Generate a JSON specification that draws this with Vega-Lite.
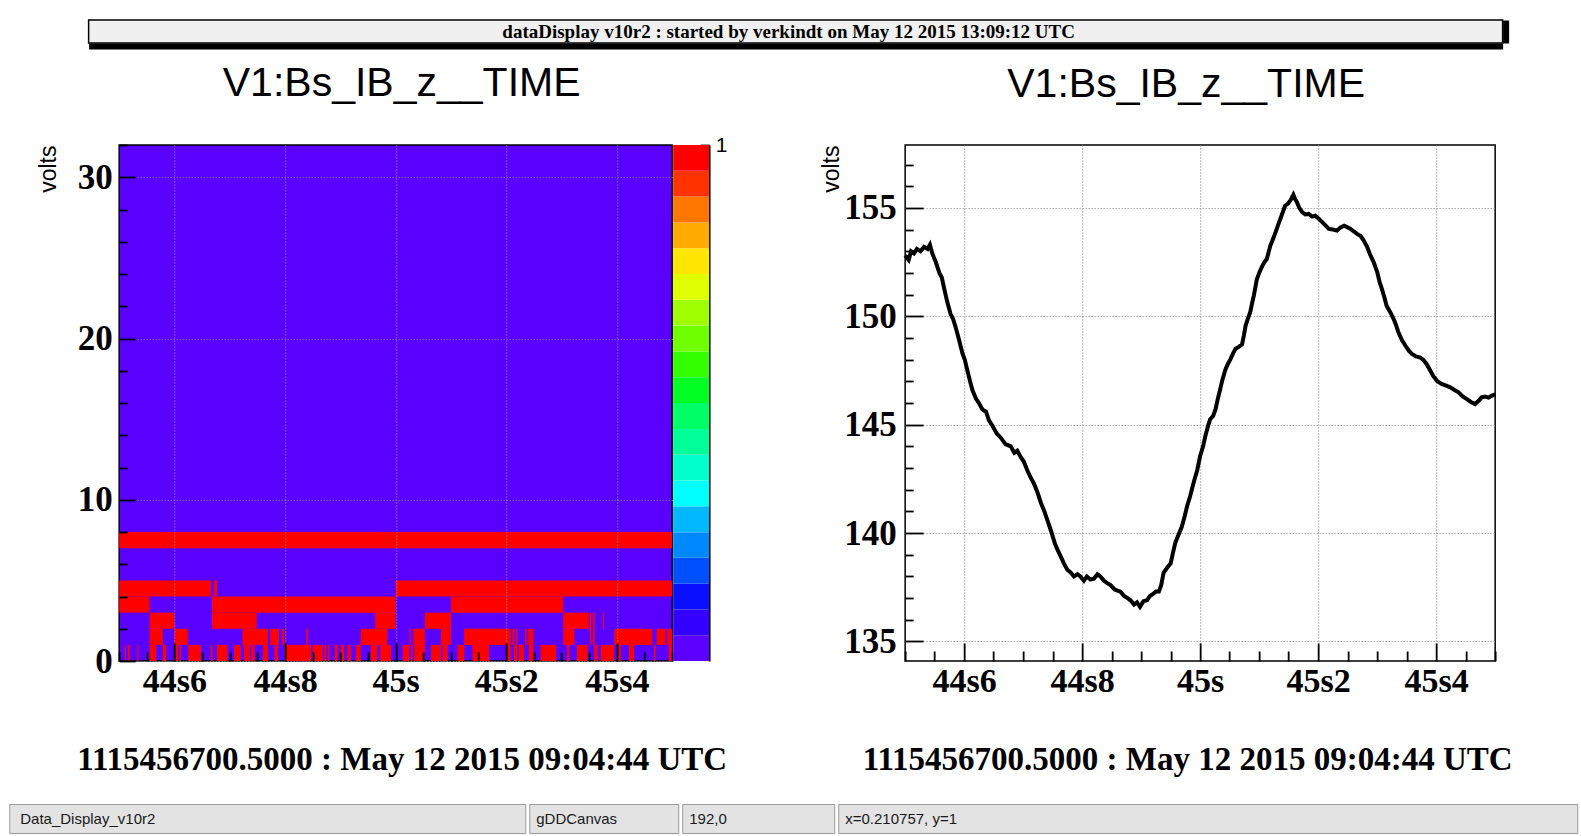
{
  "$schema": "https://vega.github.io/schema/vega-lite/v6.json",
  "background": "white",
  "padding": {"left": 8, "top": 19, "right": 0, "bottom": 0},
  "config": {
    "view": {"stroke": "black", "strokeWidth": 1.5},
    "axis": {
      "labelFont": "Liberation Serif", "labelFontWeight": "bold", "labelFontSize": 35, "labelColor": "black",
      "labelFlush": false, "labelOverlap": false, "labelBound": false,
      "titleFont": "Liberation Serif", "titleFontWeight": "bold", "titleFontSize": 33, "titleColor": "black",
      "domain": false, "tickColor": "black", "tickWidth": 1.8,
      "gridColor": "#8c8c8c", "gridDash": [1, 2], "gridWidth": 1.2
    },
    "title": {"font": "Liberation Sans", "fontSize": 41, "fontWeight": "normal", "color": "black"}
  },
  "spacing": 15,
  "center": true,
  "vconcat": [
    {
      "width": 1414, "height": 23,
      "view": {"fill": "#f0f0f0", "stroke": "black", "strokeWidth": 1.5},
      "data": {"values": [{"label": "dataDisplay v10r2 : started by verkindt on May 12 2015 13:09:12 UTC"}]},
      "mark": {"type": "text", "font": "Liberation Serif", "fontWeight": "bold", "fontSize": 19, "baseline": "middle", "color": "black", "dx": -7},
      "encoding": {
        "text": {"field": "label", "type": "nominal"},
        "x": {"field": "label", "type": "nominal", "scale": {"padding": 0},
          "axis": {"orient": "bottom", "labels": false, "ticks": false, "grid": false, "domain": true, "domainColor": "black", "domainWidth": 6, "offset": 3, "title": null}},
        "y": {"field": "label", "type": "nominal", "scale": {"padding": 0},
          "axis": {"orient": "right", "labels": false, "ticks": false, "grid": false, "domain": true, "domainColor": "black", "domainWidth": 6, "offset": 3,
            "title": ".", "titleOpacity": 0, "titleFontSize": 10, "titlePadding": 27}}
      }
    },
    {
      "spacing": 91,
      "hconcat": [
        {
          "spacing": 1,
          "bounds": "flush",
          "hconcat": [
            {
              "title": {"text": "V1:Bs_IB_z__TIME", "offset": 39, "dx": 6},
              "width": 553, "height": 516,
              "view": {"fill": "#5a00ff", "stroke": "black", "strokeWidth": 1.5},
              "data": {"values": [
                {"bit": 7, "bit_top": 8, "t0": 44.5, "t1": 45.5},
                {"bit": 4, "bit_top": 5, "t0": 44.5, "t1": 44.666},
                {"bit": 4, "bit_top": 5, "t0": 44.671, "t1": 44.677},
                {"bit": 4, "bit_top": 5, "t0": 45.0, "t1": 45.5},
                {"bit": 3, "bit_top": 4, "t0": 44.5, "t1": 44.555},
                {"bit": 3, "bit_top": 4, "t0": 44.668, "t1": 45.0},
                {"bit": 3, "bit_top": 4, "t0": 45.1, "t1": 45.303},
                {"bit": 2, "bit_top": 3, "t0": 44.555, "t1": 44.6},
                {"bit": 2, "bit_top": 3, "t0": 44.668, "t1": 44.749},
                {"bit": 2, "bit_top": 3, "t0": 44.963, "t1": 45.0},
                {"bit": 2, "bit_top": 3, "t0": 45.053, "t1": 45.1},
                {"bit": 2, "bit_top": 3, "t0": 45.303, "t1": 45.349},
                {"bit": 2, "bit_top": 3, "t0": 45.351, "t1": 45.354},
                {"bit": 2, "bit_top": 3, "t0": 45.357, "t1": 45.36},
                {"bit": 2, "bit_top": 3, "t0": 45.375, "t1": 45.377},
                {"bit": 1, "bit_top": 2, "t0": 44.555, "t1": 44.579},
                {"bit": 1, "bit_top": 2, "t0": 44.6, "t1": 44.624},
                {"bit": 1, "bit_top": 2, "t0": 44.723, "t1": 44.769},
                {"bit": 1, "bit_top": 2, "t0": 44.773, "t1": 44.789},
                {"bit": 1, "bit_top": 2, "t0": 44.795, "t1": 44.799},
                {"bit": 1, "bit_top": 2, "t0": 44.838, "t1": 44.841},
                {"bit": 1, "bit_top": 2, "t0": 44.937, "t1": 44.985},
                {"bit": 1, "bit_top": 2, "t0": 45.025, "t1": 45.027},
                {"bit": 1, "bit_top": 2, "t0": 45.032, "t1": 45.053},
                {"bit": 1, "bit_top": 2, "t0": 45.082, "t1": 45.1},
                {"bit": 1, "bit_top": 2, "t0": 45.124, "t1": 45.208},
                {"bit": 1, "bit_top": 2, "t0": 45.211, "t1": 45.214},
                {"bit": 1, "bit_top": 2, "t0": 45.217, "t1": 45.22},
                {"bit": 1, "bit_top": 2, "t0": 45.234, "t1": 45.237},
                {"bit": 1, "bit_top": 2, "t0": 45.24, "t1": 45.249},
                {"bit": 1, "bit_top": 2, "t0": 45.303, "t1": 45.323},
                {"bit": 1, "bit_top": 2, "t0": 45.351, "t1": 45.354},
                {"bit": 1, "bit_top": 2, "t0": 45.357, "t1": 45.36},
                {"bit": 1, "bit_top": 2, "t0": 45.395, "t1": 45.464},
                {"bit": 1, "bit_top": 2, "t0": 45.472, "t1": 45.488},
                {"bit": 1, "bit_top": 2, "t0": 45.491, "t1": 45.5},
                {"bit": 0, "bit_top": 1, "t0": 44.51, "t1": 44.512},
                {"bit": 0, "bit_top": 1, "t0": 44.516, "t1": 44.519},
                {"bit": 0, "bit_top": 1, "t0": 44.533, "t1": 44.535},
                {"bit": 0, "bit_top": 1, "t0": 44.555, "t1": 44.567},
                {"bit": 0, "bit_top": 1, "t0": 44.579, "t1": 44.585},
                {"bit": 0, "bit_top": 1, "t0": 44.6, "t1": 44.606},
                {"bit": 0, "bit_top": 1, "t0": 44.609, "t1": 44.612},
                {"bit": 0, "bit_top": 1, "t0": 44.625, "t1": 44.648},
                {"bit": 0, "bit_top": 1, "t0": 44.666, "t1": 44.669},
                {"bit": 0, "bit_top": 1, "t0": 44.677, "t1": 44.696},
                {"bit": 0, "bit_top": 1, "t0": 44.708, "t1": 44.72},
                {"bit": 0, "bit_top": 1, "t0": 44.726, "t1": 44.736},
                {"bit": 0, "bit_top": 1, "t0": 44.739, "t1": 44.745},
                {"bit": 0, "bit_top": 1, "t0": 44.76, "t1": 44.769},
                {"bit": 0, "bit_top": 1, "t0": 44.781, "t1": 44.787},
                {"bit": 0, "bit_top": 1, "t0": 44.799, "t1": 44.847},
                {"bit": 0, "bit_top": 1, "t0": 44.85, "t1": 44.868},
                {"bit": 0, "bit_top": 1, "t0": 44.871, "t1": 44.874},
                {"bit": 0, "bit_top": 1, "t0": 44.877, "t1": 44.88},
                {"bit": 0, "bit_top": 1, "t0": 44.89, "t1": 44.895},
                {"bit": 0, "bit_top": 1, "t0": 44.901, "t1": 44.907},
                {"bit": 0, "bit_top": 1, "t0": 44.913, "t1": 44.919},
                {"bit": 0, "bit_top": 1, "t0": 44.928, "t1": 44.937},
                {"bit": 0, "bit_top": 1, "t0": 44.955, "t1": 44.967},
                {"bit": 0, "bit_top": 1, "t0": 44.972, "t1": 44.992},
                {"bit": 0, "bit_top": 1, "t0": 45.013, "t1": 45.0246},
                {"bit": 0, "bit_top": 1, "t0": 45.0277, "t1": 45.0307},
                {"bit": 0, "bit_top": 1, "t0": 45.0337, "t1": 45.053},
                {"bit": 0, "bit_top": 1, "t0": 45.064, "t1": 45.082},
                {"bit": 0, "bit_top": 1, "t0": 45.085, "t1": 45.094},
                {"bit": 0, "bit_top": 1, "t0": 45.112, "t1": 45.124},
                {"bit": 0, "bit_top": 1, "t0": 45.139, "t1": 45.169},
                {"bit": 0, "bit_top": 1, "t0": 45.201, "t1": 45.208},
                {"bit": 0, "bit_top": 1, "t0": 45.214, "t1": 45.22},
                {"bit": 0, "bit_top": 1, "t0": 45.223, "t1": 45.232},
                {"bit": 0, "bit_top": 1, "t0": 45.241, "t1": 45.249},
                {"bit": 0, "bit_top": 1, "t0": 45.262, "t1": 45.29},
                {"bit": 0, "bit_top": 1, "t0": 45.31, "t1": 45.314},
                {"bit": 0, "bit_top": 1, "t0": 45.328, "t1": 45.347},
                {"bit": 0, "bit_top": 1, "t0": 45.359, "t1": 45.365},
                {"bit": 0, "bit_top": 1, "t0": 45.371, "t1": 45.395},
                {"bit": 0, "bit_top": 1, "t0": 45.401, "t1": 45.407},
                {"bit": 0, "bit_top": 1, "t0": 45.422, "t1": 45.431},
                {"bit": 0, "bit_top": 1, "t0": 45.467, "t1": 45.47},
                {"bit": 0, "bit_top": 1, "t0": 45.494, "t1": 45.5}
              ]},
              "layer": [
                {
                  "mark": {"type": "rect", "color": "#ff0000"},
                  "encoding": {
                    "x": {"field": "t0", "type": "quantitative", "scale": {"domain": [44.5, 45.5], "nice": false, "zero": false},
                      "axis": {"orient": "bottom", "values": [44.6, 44.8, 45.0, 45.2, 45.4], "labelExpr": "datum.value < 44.7 ? '44s6' : datum.value < 44.9 ? '44s8' : datum.value < 45.1 ? '45s' : datum.value < 45.3 ? '45s2' : '45s4'",
                        "labelFontSize": 34, "tickSize": -18, "labelPadding": 21, "grid": true, "zindex": 1,
                        "title": "1115456700.5000 : May 12 2015 09:04:44 UTC", "titlePadding": 45, "titleX": 282.5}},
                    "x2": {"field": "t1"},
                    "y": {"field": "bit", "type": "quantitative", "scale": {"domain": [0, 32], "nice": false, "zero": false},
                      "axis": {"orient": "left", "values": [0, 10, 20, 30], "tickSize": -16, "labelPadding": 23, "grid": true, "zindex": 1,
                        "title": "volts", "titleFont": "Liberation Sans", "titleFontWeight": "normal", "titleFontSize": 23, "titleAnchor": "end", "titlePadding": 17}},
                    "y2": {"field": "bit_top"}
                  }
                },
                {
                  "mark": {"type": "rect", "opacity": 0},
                  "encoding": {
                    "x": {"field": "t0", "type": "quantitative",
                      "axis": {"orient": "bottom", "values": [44.5, 44.55, 44.65, 44.7, 44.75, 44.85, 44.9, 44.95, 45.05, 45.1, 45.15, 45.25, 45.3, 45.35, 45.45, 45.5], "tickSize": -9, "labels": false, "grid": false, "zindex": 1, "title": null}},
                    "x2": {"field": "t1"},
                    "y": {"field": "bit", "type": "quantitative",
                      "axis": {"orient": "left", "values": [2, 4, 6, 8, 12, 14, 16, 18, 22, 24, 26, 28, 32], "tickSize": -8, "labels": false, "grid": false, "zindex": 1, "title": null}},
                    "y2": {"field": "bit_top"}
                  }
                }
              ],
              "resolve": {"axis": {"x": "independent", "y": "independent"}}
            },
            {
              "width": 36, "height": 516,
              "view": {"stroke": null},
              "data": {"values": [
                {"k": 0, "lo": 0.2979, "hi": 0.3165},
                {"k": 1, "lo": 0.3165, "hi": 0.3362},
                {"k": 2, "lo": 0.3362, "hi": 0.3571},
                {"k": 3, "lo": 0.3571, "hi": 0.3795},
                {"k": 4, "lo": 0.3795, "hi": 0.4031},
                {"k": 5, "lo": 0.4031, "hi": 0.4283},
                {"k": 6, "lo": 0.4283, "hi": 0.455},
                {"k": 7, "lo": 0.455, "hi": 0.4834},
                {"k": 8, "lo": 0.4834, "hi": 0.5136},
                {"k": 9, "lo": 0.5136, "hi": 0.5458},
                {"k": 10, "lo": 0.5458, "hi": 0.5798},
                {"k": 11, "lo": 0.5798, "hi": 0.6161},
                {"k": 12, "lo": 0.6161, "hi": 0.6545},
                {"k": 13, "lo": 0.6545, "hi": 0.6954},
                {"k": 14, "lo": 0.6954, "hi": 0.7388},
                {"k": 15, "lo": 0.7388, "hi": 0.7849},
                {"k": 16, "lo": 0.7849, "hi": 0.8339},
                {"k": 17, "lo": 0.8339, "hi": 0.886},
                {"k": 18, "lo": 0.886, "hi": 0.9413},
                {"k": 19, "lo": 0.9413, "hi": 1.0}
              ]},
              "mark": {"type": "rect"},
              "encoding": {
                "y": {"field": "lo", "type": "quantitative", "scale": {"type": "log", "domain": [0.2979, 1], "nice": false},
                  "axis": {"orient": "right", "values": [0.3, 0.4, 0.5, 0.6, 0.7, 0.8, 0.9, 1], "labelExpr": "datum.value > 0.95 ? '1' : ''", "tickSize": -9, "labelPadding": 15, "grid": false,
                    "domain": true, "domainColor": "black", "domainWidth": 1.8,
                    "labelFont": "Liberation Sans", "labelFontWeight": "normal", "labelFontSize": 21, "title": null}},
                "y2": {"field": "hi"},
                "color": {"field": "k", "type": "ordinal", "legend": null,
                  "scale": {"range": ["#5c00ff", "#3300ff", "#0a10ff", "#0050ff", "#0088ff", "#00b8ff", "#00ffff", "#00ffcc", "#00ff99", "#00ff66", "#00ff22", "#33ff00", "#70ff00", "#a0ff00", "#e0ff00", "#ffe600", "#ffaa00", "#ff7700", "#ff3300", "#ff0000"]}}
              }
            }
          ]
        },
        {
          "title": {"text": "V1:Bs_IB_z__TIME", "offset": 39, "dx": -14},
          "width": 590, "height": 516,
          "data": {"values": [
            {"t": 44.500, "v": 152.8}, {"t": 44.506, "v": 152.6}, {"t": 44.510, "v": 153.0}, {"t": 44.515, "v": 152.9},
            {"t": 44.520, "v": 153.1}, {"t": 44.526, "v": 153.0}, {"t": 44.532, "v": 153.2}, {"t": 44.538, "v": 153.1},
            {"t": 44.542, "v": 153.3}, {"t": 44.546, "v": 152.9}, {"t": 44.552, "v": 152.5}, {"t": 44.558, "v": 152.0},
            {"t": 44.562, "v": 151.8}, {"t": 44.566, "v": 151.3}, {"t": 44.571, "v": 150.7}, {"t": 44.577, "v": 150.1},
            {"t": 44.581, "v": 149.9}, {"t": 44.585, "v": 149.55}, {"t": 44.591, "v": 148.95}, {"t": 44.597, "v": 148.3},
            {"t": 44.601, "v": 148.0}, {"t": 44.605, "v": 147.55}, {"t": 44.610, "v": 147.0}, {"t": 44.614, "v": 146.6},
            {"t": 44.620, "v": 146.2}, {"t": 44.625, "v": 146.0}, {"t": 44.631, "v": 145.7}, {"t": 44.637, "v": 145.6},
            {"t": 44.642, "v": 145.2}, {"t": 44.648, "v": 144.95}, {"t": 44.655, "v": 144.6}, {"t": 44.662, "v": 144.4},
            {"t": 44.670, "v": 144.1}, {"t": 44.679, "v": 144.0}, {"t": 44.685, "v": 143.7}, {"t": 44.690, "v": 143.8},
            {"t": 44.696, "v": 143.5}, {"t": 44.701, "v": 143.3}, {"t": 44.707, "v": 142.9}, {"t": 44.712, "v": 142.6},
            {"t": 44.718, "v": 142.3}, {"t": 44.724, "v": 141.9}, {"t": 44.730, "v": 141.4}, {"t": 44.736, "v": 141.0},
            {"t": 44.741, "v": 140.6}, {"t": 44.746, "v": 140.2}, {"t": 44.750, "v": 139.86}, {"t": 44.754, "v": 139.5},
            {"t": 44.758, "v": 139.25}, {"t": 44.764, "v": 138.9}, {"t": 44.769, "v": 138.6}, {"t": 44.775, "v": 138.3},
            {"t": 44.780, "v": 138.2}, {"t": 44.786, "v": 138.0}, {"t": 44.792, "v": 138.1}, {"t": 44.797, "v": 138.0},
            {"t": 44.803, "v": 137.8}, {"t": 44.808, "v": 138.0}, {"t": 44.814, "v": 137.86}, {"t": 44.820, "v": 137.9},
            {"t": 44.826, "v": 138.1}, {"t": 44.831, "v": 138.0}, {"t": 44.837, "v": 137.8}, {"t": 44.842, "v": 137.7},
            {"t": 44.848, "v": 137.6}, {"t": 44.855, "v": 137.4}, {"t": 44.860, "v": 137.35}, {"t": 44.865, "v": 137.3},
            {"t": 44.871, "v": 137.1}, {"t": 44.877, "v": 137.0}, {"t": 44.882, "v": 136.9}, {"t": 44.888, "v": 136.7},
            {"t": 44.893, "v": 136.8}, {"t": 44.898, "v": 136.6}, {"t": 44.904, "v": 136.86}, {"t": 44.910, "v": 136.9},
            {"t": 44.915, "v": 137.1}, {"t": 44.919, "v": 137.17}, {"t": 44.925, "v": 137.3}, {"t": 44.930, "v": 137.3},
            {"t": 44.934, "v": 137.6}, {"t": 44.938, "v": 138.17}, {"t": 44.944, "v": 138.4}, {"t": 44.950, "v": 138.6},
            {"t": 44.954, "v": 139.1}, {"t": 44.958, "v": 139.56}, {"t": 44.963, "v": 139.9}, {"t": 44.969, "v": 140.3},
            {"t": 44.974, "v": 140.8}, {"t": 44.978, "v": 141.25}, {"t": 44.983, "v": 141.7}, {"t": 44.989, "v": 142.33},
            {"t": 44.995, "v": 142.9}, {"t": 45.000, "v": 143.56}, {"t": 45.005, "v": 144.0}, {"t": 45.009, "v": 144.5},
            {"t": 45.014, "v": 145.0}, {"t": 45.017, "v": 145.25}, {"t": 45.022, "v": 145.4}, {"t": 45.026, "v": 145.7},
            {"t": 45.030, "v": 146.2}, {"t": 45.034, "v": 146.64}, {"t": 45.038, "v": 147.1}, {"t": 45.043, "v": 147.56},
            {"t": 45.047, "v": 147.8}, {"t": 45.051, "v": 148.0}, {"t": 45.056, "v": 148.3}, {"t": 45.060, "v": 148.5},
            {"t": 45.066, "v": 148.6}, {"t": 45.071, "v": 148.7}, {"t": 45.074, "v": 149.1}, {"t": 45.077, "v": 149.56},
            {"t": 45.081, "v": 149.9}, {"t": 45.085, "v": 150.2}, {"t": 45.088, "v": 150.6}, {"t": 45.091, "v": 150.95},
            {"t": 45.096, "v": 151.7}, {"t": 45.100, "v": 152.0}, {"t": 45.105, "v": 152.3}, {"t": 45.109, "v": 152.5},
            {"t": 45.113, "v": 152.64}, {"t": 45.119, "v": 153.26}, {"t": 45.124, "v": 153.6}, {"t": 45.128, "v": 153.88},
            {"t": 45.132, "v": 154.2}, {"t": 45.136, "v": 154.5}, {"t": 45.140, "v": 154.8}, {"t": 45.144, "v": 155.1},
            {"t": 45.149, "v": 155.2}, {"t": 45.153, "v": 155.34}, {"t": 45.158, "v": 155.6}, {"t": 45.161, "v": 155.4},
            {"t": 45.164, "v": 155.26}, {"t": 45.168, "v": 155.0}, {"t": 45.173, "v": 154.8}, {"t": 45.178, "v": 154.7},
            {"t": 45.184, "v": 154.72}, {"t": 45.190, "v": 154.6}, {"t": 45.195, "v": 154.64}, {"t": 45.201, "v": 154.5},
            {"t": 45.207, "v": 154.34}, {"t": 45.212, "v": 154.2}, {"t": 45.218, "v": 154.03}, {"t": 45.225, "v": 154.0},
            {"t": 45.232, "v": 153.95}, {"t": 45.238, "v": 154.1}, {"t": 45.244, "v": 154.18}, {"t": 45.250, "v": 154.1},
            {"t": 45.255, "v": 154.03}, {"t": 45.261, "v": 153.9}, {"t": 45.266, "v": 153.8}, {"t": 45.272, "v": 153.7},
            {"t": 45.277, "v": 153.5}, {"t": 45.283, "v": 153.2}, {"t": 45.288, "v": 152.85}, {"t": 45.294, "v": 152.5},
            {"t": 45.300, "v": 152.05}, {"t": 45.304, "v": 151.6}, {"t": 45.308, "v": 151.26}, {"t": 45.312, "v": 150.9},
            {"t": 45.316, "v": 150.49}, {"t": 45.322, "v": 150.2}, {"t": 45.328, "v": 149.87}, {"t": 45.332, "v": 149.6},
            {"t": 45.336, "v": 149.26}, {"t": 45.342, "v": 148.9}, {"t": 45.348, "v": 148.64}, {"t": 45.354, "v": 148.4},
            {"t": 45.359, "v": 148.26}, {"t": 45.366, "v": 148.15}, {"t": 45.373, "v": 148.1}, {"t": 45.378, "v": 148.0},
            {"t": 45.384, "v": 147.79}, {"t": 45.390, "v": 147.5}, {"t": 45.395, "v": 147.25}, {"t": 45.402, "v": 147.0},
            {"t": 45.410, "v": 146.87}, {"t": 45.417, "v": 146.8}, {"t": 45.424, "v": 146.72}, {"t": 45.431, "v": 146.6},
            {"t": 45.438, "v": 146.49}, {"t": 45.445, "v": 146.3}, {"t": 45.452, "v": 146.18}, {"t": 45.459, "v": 146.05},
            {"t": 45.466, "v": 145.95}, {"t": 45.472, "v": 146.1}, {"t": 45.477, "v": 146.26}, {"t": 45.483, "v": 146.3},
            {"t": 45.489, "v": 146.25}, {"t": 45.494, "v": 146.33}, {"t": 45.500, "v": 146.4}
          ]},
          "layer": [
            {
              "mark": {"type": "line", "color": "black", "strokeWidth": 4},
              "encoding": {
                "x": {"field": "t", "type": "quantitative", "scale": {"domain": [44.5, 45.5], "nice": false, "zero": false},
                  "axis": {"orient": "bottom", "values": [44.6, 44.8, 45.0, 45.2, 45.4], "labelExpr": "datum.value < 44.7 ? '44s6' : datum.value < 44.9 ? '44s8' : datum.value < 45.1 ? '45s' : datum.value < 45.3 ? '45s2' : '45s4'",
                    "labelFontSize": 34, "tickSize": -18, "labelPadding": 21, "grid": true,
                    "title": "1115456700.5000 : May 12 2015 09:04:44 UTC", "titlePadding": 45, "titleX": 282}},
                "y": {"field": "v", "type": "quantitative", "scale": {"domain": [134.1, 157.9], "nice": false, "zero": false},
                  "axis": {"orient": "left", "values": [135, 140, 145, 150, 155], "tickSize": -18, "labelPadding": 27, "grid": true,
                    "title": "volts", "titleFont": "Liberation Sans", "titleFontWeight": "normal", "titleFontSize": 23, "titleAnchor": "end", "titlePadding": 0}}
              }
            },
            {
              "mark": {"type": "line", "opacity": 0},
              "encoding": {
                "x": {"field": "t", "type": "quantitative",
                  "axis": {"orient": "bottom", "values": [44.5, 44.55, 44.65, 44.7, 44.75, 44.85, 44.9, 44.95, 45.05, 45.1, 45.15, 45.25, 45.3, 45.35, 45.45, 45.5], "tickSize": -10, "labels": false, "grid": false, "title": null}},
                "y": {"field": "v", "type": "quantitative",
                  "axis": {"orient": "left", "values": [136, 137, 138, 139, 141, 142, 143, 144, 146, 147, 148, 149, 151, 152, 153, 154, 156, 157], "tickSize": -8, "labels": false, "grid": false, "title": null}}
              }
            }
          ],
          "resolve": {"axis": {"x": "independent", "y": "independent"}}
        }
      ]
    },
    {
      "spacing": 2,
      "hconcat": [
        {
          "width": 516, "height": 29,
          "view": {"fill": "#e3e3e3", "stroke": "#9a9a9a", "strokeWidth": 1},
          "data": {"values": [{"label": "Data_Display_v10r2"}]},
          "mark": {"type": "text", "font": "Liberation Sans", "fontSize": 15, "align": "left", "baseline": "middle", "color": "#1a1a1a", "dx": 11},
          "encoding": {
            "text": {"field": "label", "type": "nominal"},
            "x": {"datum": 0, "type": "quantitative", "scale": {"domain": [0, 1], "nice": false},
              "axis": {"orient": "top", "labels": false, "ticks": false, "grid": false, "domain": false, "title": ".", "titleOpacity": 0, "titleFontSize": 8, "titlePadding": 3}}
          }
        },
        {
          "width": 149, "height": 29,
          "view": {"fill": "#e3e3e3", "stroke": "#9a9a9a", "strokeWidth": 1},
          "data": {"values": [{"label": "gDDCanvas"}]},
          "mark": {"type": "text", "font": "Liberation Sans", "fontSize": 15, "align": "left", "baseline": "middle", "color": "#1a1a1a", "dx": 7},
          "encoding": {
            "text": {"field": "label", "type": "nominal"},
            "x": {"datum": 0, "type": "quantitative", "scale": {"domain": [0, 1], "nice": false}, "axis": null}
          }
        },
        {
          "width": 152, "height": 29,
          "view": {"fill": "#e3e3e3", "stroke": "#9a9a9a", "strokeWidth": 1},
          "data": {"values": [{"label": "192,0"}]},
          "mark": {"type": "text", "font": "Liberation Sans", "fontSize": 15, "align": "left", "baseline": "middle", "color": "#1a1a1a", "dx": 7},
          "encoding": {
            "text": {"field": "label", "type": "nominal"},
            "x": {"datum": 0, "type": "quantitative", "scale": {"domain": [0, 1], "nice": false}, "axis": null}
          }
        },
        {
          "width": 739, "height": 29,
          "view": {"fill": "#e3e3e3", "stroke": "#9a9a9a", "strokeWidth": 1},
          "data": {"values": [{"label": "x=0.210757, y=1"}]},
          "mark": {"type": "text", "font": "Liberation Sans", "fontSize": 15, "align": "left", "baseline": "middle", "color": "#1a1a1a", "dx": 7},
          "encoding": {
            "text": {"field": "label", "type": "nominal"},
            "x": {"datum": 0, "type": "quantitative", "scale": {"domain": [0, 1], "nice": false}, "axis": null},
            "y": {"field": "label", "type": "nominal", "scale": {"padding": 0},
              "axis": {"orient": "right", "labels": false, "ticks": false, "grid": false, "domain": true, "domainOpacity": 0, "offset": 45, "title": null}}
          }
        }
      ]
    }
  ]
}
